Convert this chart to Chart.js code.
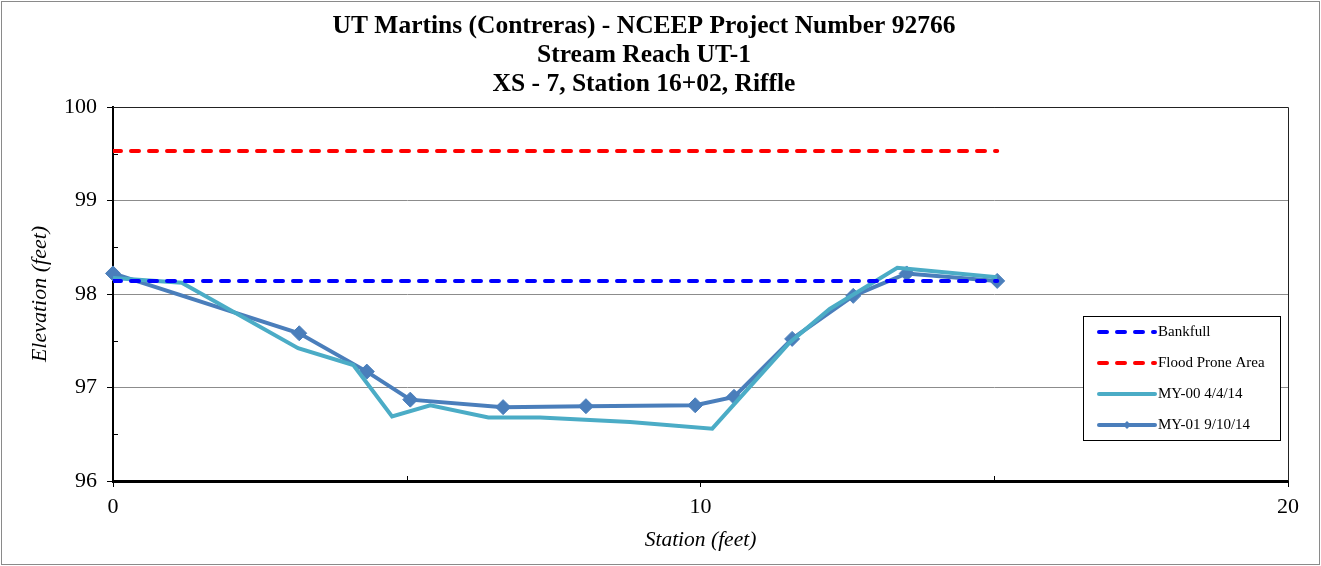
<!DOCTYPE html>
<html>
<head>
<meta charset="utf-8">
<script src="https://cdn.jsdelivr.net/npm/chart.js@4/dist/chart.umd.min.js"></script>
<style>
  html, body { margin: 0; padding: 0; background: #fff; }
  #wrap { width: 1321px; height: 566px; }
</style>
</head>
<body>
<div id="wrap"><canvas id="xs"></canvas></div>
<script>
const TITLE_LINES = [
  'UT Martins (Contreras) - NCEEP Project Number 92766',
  'Stream Reach UT-1',
  'XS - 7, Station 16+02, Riffle'
];

// station (ft) / elevation (ft)
const bankfullStation = [0, 15.05];
const bankfullElev = [98.14, 98.14];

const floodStation = [0, 15.05];
const floodElev = [99.53, 99.53];

const my00Station = [0, 1.17, 3.15, 4.09, 4.75, 5.40, 6.39, 7.27, 8.8, 10.2, 11.5, 12.2, 13.35, 15.05];
const my00Elev = [98.17, 98.12, 97.42, 97.24, 96.69, 96.81, 96.68, 96.68, 96.63, 96.56, 97.47, 97.84, 98.28, 98.18];

const my01Station = [0, 3.17, 4.32, 5.06, 6.64, 8.05, 9.91, 10.57, 11.56, 12.60, 13.51, 15.05];
const my01Elev = [98.22, 97.58, 97.17, 96.87, 96.79, 96.80, 96.81, 96.90, 97.52, 97.98, 98.22, 98.14];

const xTicks = [0, 10, 20];
const xMinorTicks = [5, 15];
const yTicks = [96, 97, 98, 99, 100];
const yMinorTicks = [96.5, 97.5, 98.5, 99.5];

const SERIF = "'Liberation Serif', 'Times New Roman', serif";

function pairs(xs, ys) {
  return xs.map((x, i) => ({ x: x, y: ys[i] }));
}

// frame, minor ticks, legend box and outer border
const decorations = {
  id: 'decorations',
  afterDraw(chart) {
    const ctx = chart.ctx;
    const area = chart.chartArea;
    const xs = chart.scales.x;
    const ys = chart.scales.y;
    ctx.save();

    // top / right frame
    ctx.strokeStyle = '#222';
    ctx.lineWidth = 1;
    ctx.beginPath();
    ctx.moveTo(area.left, area.top + 0.5);
    ctx.lineTo(area.right + 0.5, area.top + 0.5);
    ctx.lineTo(area.right + 0.5, area.bottom);
    ctx.stroke();

    // minor ticks (inside)
    ctx.strokeStyle = '#000';
    ctx.beginPath();
    xMinorTicks.forEach(v => {
      const px = Math.round(xs.getPixelForValue(v)) + 0.5;
      ctx.moveTo(px, area.bottom);
      ctx.lineTo(px, area.bottom - 5);
    });
    yMinorTicks.forEach(v => {
      const py = Math.round(ys.getPixelForValue(v)) + 0.5;
      ctx.moveTo(area.left, py);
      ctx.lineTo(area.left + 5, py);
    });
    ctx.stroke();

    // legend
    const bx = area.right - 205, by = area.bottom - 165, bw = 197, bh = 124;
    ctx.fillStyle = '#fff';
    ctx.fillRect(bx, by, bw, bh);
    ctx.strokeStyle = '#000';
    ctx.lineWidth = 1;
    ctx.strokeRect(bx + 0.5, by + 0.5, bw, bh);
    ctx.font = '15px ' + SERIF;
    ctx.textBaseline = 'middle';
    ctx.textAlign = 'left';
    chart.data.datasets.forEach((ds, i) => {
      const ly = by + 16 + i * 31;
      const x0 = bx + 16, x1 = bx + 72;
      ctx.strokeStyle = ds.borderColor;
      ctx.lineWidth = 4;
      ctx.lineCap = 'round';
      ctx.setLineDash(ds.borderDash || []);
      ctx.beginPath();
      ctx.moveTo(x0, ly);
      ctx.lineTo(x1, ly);
      ctx.stroke();
      ctx.setLineDash([]);
      if (ds.pointRadius > 0) {
        const r = 4;
        const cx = (x0 + x1) / 2;
        ctx.fillStyle = ds.borderColor;
        ctx.beginPath();
        ctx.moveTo(cx, ly - r);
        ctx.lineTo(cx + r, ly);
        ctx.lineTo(cx, ly + r);
        ctx.lineTo(cx - r, ly);
        ctx.closePath();
        ctx.fill();
      }
      ctx.fillStyle = '#000';
      ctx.fillText(ds.label, x1 + 3, ly);
    });

    // outer border
    ctx.strokeStyle = '#8a8a8a';
    ctx.lineWidth = 1;
    ctx.strokeRect(1.5, 1.5, chart.width - 3, chart.height - 3);
    ctx.restore();
  }
};

new Chart(document.getElementById('xs'), {
  type: 'line',
  data: {
    datasets: [
      {
        label: 'Bankfull',
        data: pairs(bankfullStation, bankfullElev),
        borderColor: '#0000ff',
        borderWidth: 4,
        borderDash: [8, 10],
        borderCapStyle: 'round',
        pointRadius: 0
      },
      {
        label: 'Flood Prone Area',
        data: pairs(floodStation, floodElev),
        borderColor: '#ff0000',
        borderWidth: 4,
        borderDash: [8, 10],
        borderCapStyle: 'round',
        pointRadius: 0
      },
      {
        label: 'MY-00 4/4/14',
        data: pairs(my00Station, my00Elev),
        borderColor: '#4bacc6',
        borderWidth: 4,
        pointRadius: 0,
        clip: false
      },
      {
        label: 'MY-01 9/10/14',
        data: pairs(my01Station, my01Elev),
        borderColor: '#4a7ebb',
        backgroundColor: '#4a7ebb',
        borderWidth: 4,
        pointStyle: 'rectRot',
        pointRadius: 7.5,
        pointBorderWidth: 1,
        clip: false
      }
    ]
  },
  options: {
    responsive: true,
    maintainAspectRatio: false,
    animation: false,
    layout: { padding: { left: 0, right: 33, top: 0, bottom: 0 } },
    plugins: {
      legend: { display: false },
      tooltip: { enabled: false },
      title: {
        display: true,
        text: TITLE_LINES,
        color: '#000',
        font: { family: SERIF, size: 25.5, weight: 'bold', lineHeight: '29px' },
        padding: { top: 12, bottom: 8 }
      }
    },
    scales: {
      x: {
        type: 'linear',
        min: 0,
        max: 20,
        afterBuildTicks: s => { s.ticks = xTicks.map(v => ({ value: v })); },
        afterFit: s => { s.height = 85; },
        ticks: { color: '#000', padding: 7, font: { family: SERIF, size: 22 } },
        grid: { drawOnChartArea: false, tickLength: 6, tickColor: '#000' },
        border: { color: '#000', width: 3 },
        title: {
          display: true,
          text: 'Station (feet)',
          color: '#000',
          font: { family: SERIF, size: 21.5, style: 'italic' },
          padding: { top: 4, bottom: 13 }
        }
      },
      y: {
        type: 'linear',
        min: 96,
        max: 100,
        afterBuildTicks: s => { s.ticks = yTicks.map(v => ({ value: v })); },
        afterFit: s => { s.width = 113; },
        ticks: { color: '#000', padding: 10, font: { family: SERIF, size: 22 } },
        grid: {
          color: c => (c.tick && c.tick.value === 100 ? '#222' : '#8c8c8c'),
          tickLength: 6,
          tickColor: '#000'
        },
        border: { color: '#000', width: 2 },
        title: {
          display: true,
          text: 'Elevation (feet)',
          color: '#000',
          font: { family: SERIF, size: 22, style: 'italic' },
          padding: { top: 27, bottom: 4 }
        }
      }
    }
  },
  plugins: [decorations]
});
</script>
</body>
</html>
